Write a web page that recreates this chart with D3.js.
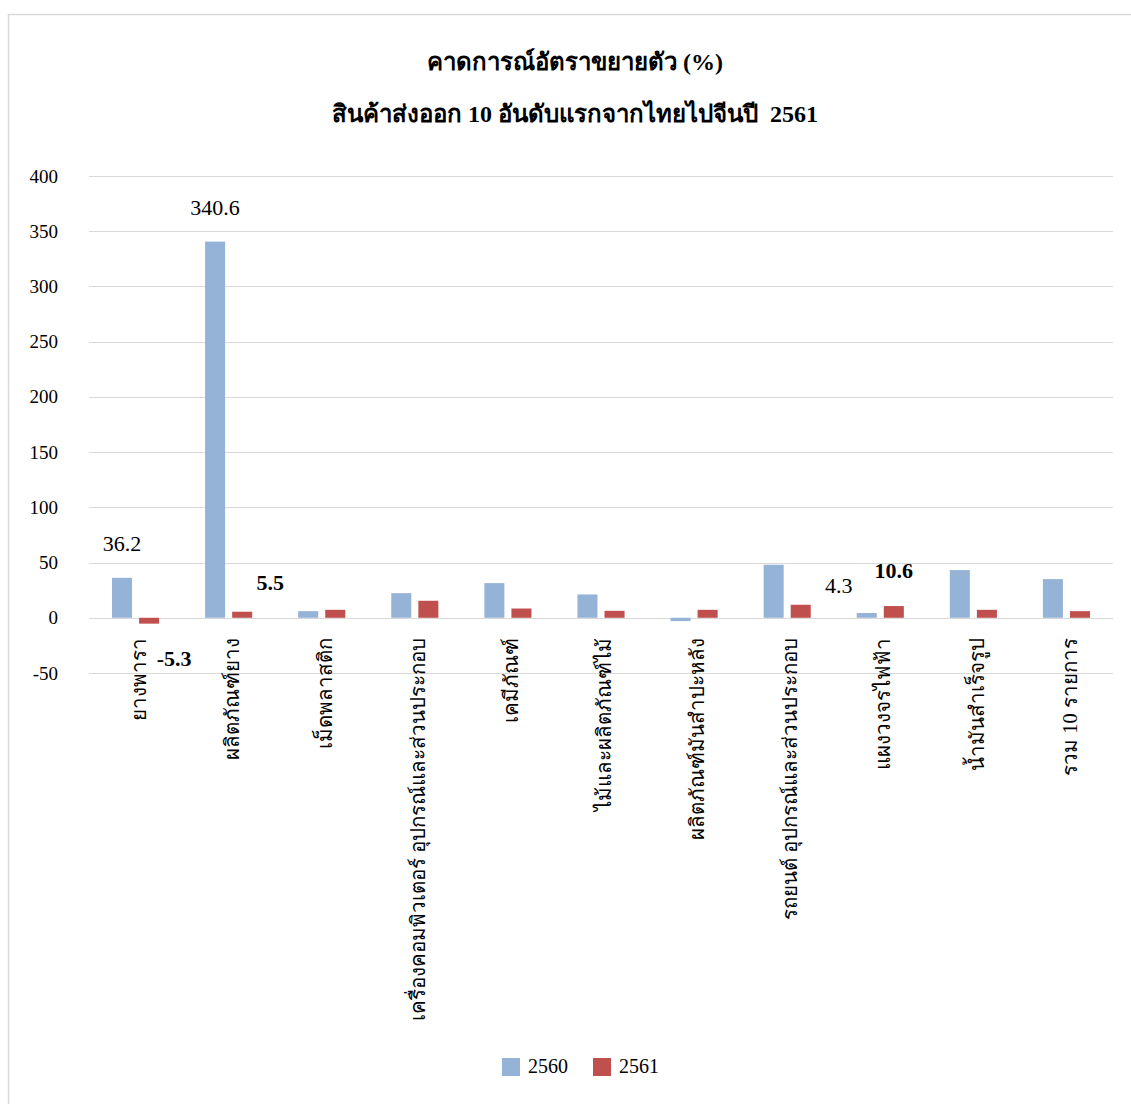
<!DOCTYPE html>
<html>
<head>
<meta charset="utf-8">
<script src="https://cdn.jsdelivr.net/npm/d3@7"></script>
<style>
	body { margin: 0; background: #fff; }
	svg text { font-family: "Liberation Serif", "Times New Roman", serif; fill: #000; }
</style>
</head>
<body>
<div id="chart"></div>
<script>
var categories = [
	"ยางพารา",
	"ผลิตภัณฑ์ยาง",
	"เม็ดพลาสติก",
	"เครื่องคอมพิวเตอร์ อุปกรณ์และส่วนประกอบ",
	"เคมีภัณฑ์",
	"ไม้และผลิตภัณฑ์ไม้",
	"ผลิตภัณฑ์มันสำปะหลัง",
	"รถยนต์ อุปกรณ์และส่วนประกอบ",
	"แผงวงจรไฟฟ้า",
	"น้ำมันสำเร็จรูป",
	"รวม 10 รายการ"
];
var seriesNames = ["2560", "2561"];
var values2560 = [36.2, 340.6, 6.0, 22.3, 31.4, 21.1, -3.0, 48.0, 4.3, 43.2, 35.0];
var values2561 = [-5.3, 5.5, 7.2, 15.4, 8.4, 6.3, 7.2, 11.8, 10.6, 7.2, 6.0];
var yTicks = [-50, 0, 50, 100, 150, 200, 250, 300, 350, 400];
var titleLines = ["คาดการณ์อัตราขยายตัว (%)", "สินค้าส่งออก 10 อันดับแรกจากไทยไปจีนปี  2561"];
//which values carry a data label (series index, category index, bold?)
var labelled = [
	{s: 0, i: 0, bold: false},
	{s: 0, i: 1, bold: false},
	{s: 1, i: 0, bold: true},
	{s: 1, i: 1, bold: true},
	{s: 0, i: 8, bold: false},
	{s: 1, i: 8, bold: true}
];

var colors = ["#95b3d7", "#c0504d"];
var W = 1131, H = 1104;

var svg = d3.select("#chart").append("svg")
	.attr("width", W)
	.attr("height", H);

//outer frame
svg.append("rect")
	.attr("x", 8.5).attr("y", 14.5)
	.attr("width", W + 10).attr("height", H + 10)
	.style("fill", "none")
	.style("stroke", "#d9d9d9")
	.style("stroke-width", 1.5);

///////////////////////////////////////////////////////////////////////////
//////////////////////////////// Scales ///////////////////////////////////
///////////////////////////////////////////////////////////////////////////

var plot = {left: 89, right: 1113, top: 176, bottom: 673};

var y = d3.scaleLinear()
	.domain([-50, 400])
	.range([plot.bottom, plot.top]);

var x = d3.scaleBand()
	.domain(categories)
	.range([plot.left, plot.right]);

var bw = x.bandwidth();
var x1 = d3.scaleBand()
	.domain(seriesNames)
	.range([bw * 0.247, bw * 0.753])
	.paddingInner(0.26);

var data = [values2560, values2561];

//gridlines
svg.append("g")
	.selectAll("line")
	.data(yTicks)
	.join("line")
	.attr("x1", plot.left).attr("x2", plot.right)
	.attr("y1", function(d) { return Math.round(y(d)) + 0.5; })
	.attr("y2", function(d) { return Math.round(y(d)) + 0.5; })
	.style("stroke", "#d9d9d9")
	.style("stroke-width", 1);

//y axis labels
var yAxis = svg.append("g")
	.attr("transform", "translate(" + plot.left + ",0)")
	.call(d3.axisLeft(y).tickValues(yTicks).tickSize(0).tickPadding(31)
		.tickFormat(function(d) { return String(d); }));
yAxis.select(".domain").remove();
yAxis.selectAll("text")
	.style("font-family", "'Liberation Serif', serif")
	.style("font-size", "19px");

///////////////////////////////////////////////////////////////////////////
///////////////////////////////// Bars ////////////////////////////////////
///////////////////////////////////////////////////////////////////////////

seriesNames.forEach(function(name, s) {
	svg.append("g")
		.selectAll("rect")
		.data(data[s])
		.join("rect")
		.attr("x", function(d, i) { return x(categories[i]) + x1(name); })
		.attr("width", x1.bandwidth())
		.attr("y", function(d) { return y(Math.max(0, d)); })
		.attr("height", function(d) { return Math.abs(y(d) - y(0)); })
		.style("fill", colors[s]);
});

//data labels (nudged by hand like in the original sheet)
var nudge = [[0, -27], [0, -27], [25, 48], [28, -22], [-28, -20], [0, -28]];
svg.append("g")
	.selectAll("text")
	.data(labelled)
	.join("text")
	.attr("x", function(d, k) { return x(categories[d.i]) + x1(seriesNames[d.s]) + x1.bandwidth() / 2 + nudge[k][0]; })
	.attr("y", function(d, k) {
		var v = data[d.s][d.i];
		return (v >= 0 ? y(v) : y(0)) + nudge[k][1];
	})
	.attr("text-anchor", "middle")
	.style("font-size", "22px")
	.style("font-weight", function(d) { return d.bold ? "bold" : "normal"; })
	.text(function(d) { return data[d.s][d.i]; });

//category labels, rotated
svg.append("g")
	.selectAll("text")
	.data(categories)
	.join("text")
	.attr("transform", function(d) {
		return "translate(" + (x(d) + bw / 2 + 3) + ",638) rotate(-90)";
	})
	.attr("text-anchor", "end")
	.attr("dy", "0.35em")
	.style("font-size", "20.5px")
	.text(function(d) { return d; });

//title
svg.append("g")
	.selectAll("text")
	.data(titleLines)
	.join("text")
	.attr("x", 575)
	.attr("y", function(d, i) { return 70 + i * 52; })
	.attr("text-anchor", "middle")
	.style("font-size", "24px")
	.style("font-weight", "bold")
	.style("white-space", "pre")
	.text(function(d) { return d; });

//legend
var legend = svg.append("g")
	.attr("transform", "translate(502,1058)");
var item = legend.selectAll("g")
	.data(seriesNames)
	.join("g")
	.attr("transform", function(d, i) { return "translate(" + (i * 91) + ",0)"; });
item.append("rect")
	.attr("width", 18).attr("height", 18)
	.style("fill", function(d, i) { return colors[i]; });
item.append("text")
	.attr("x", 26).attr("y", 15)
	.style("font-size", "20px")
	.text(function(d) { return d; });
</script>
</body>
</html>
